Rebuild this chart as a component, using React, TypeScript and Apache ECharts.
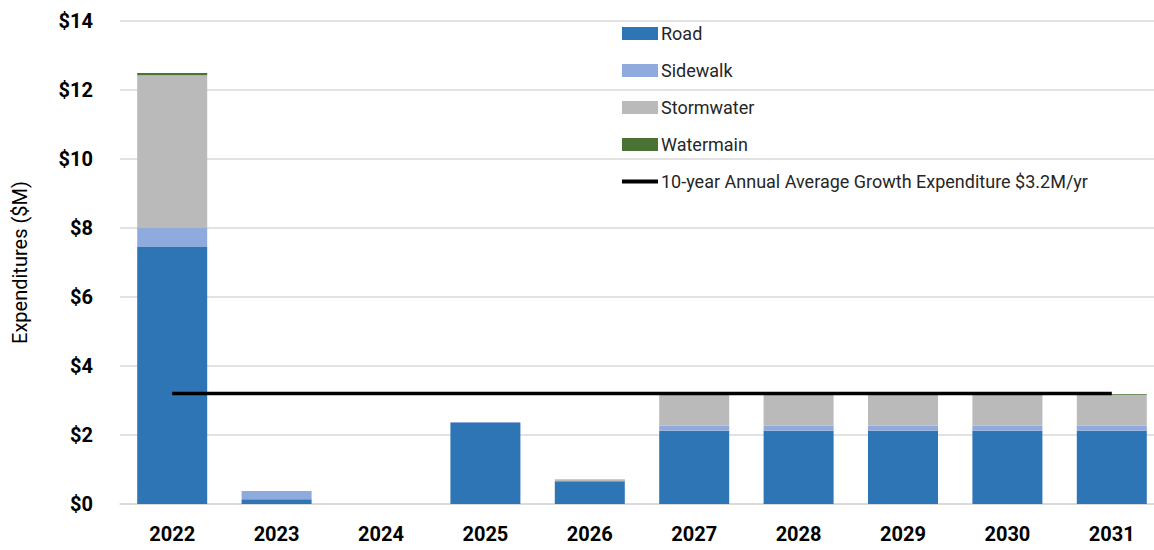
import React, { useEffect, useRef } from "react";
import * as echarts from "echarts";

const years = ["2022", "2023", "2024", "2025", "2026", "2027", "2028", "2029", "2030", "2031"];
const road = [7.45, 0.14, 0, 2.35, 0.66, 2.12, 2.12, 2.12, 2.12, 2.12];
const sidewalk = [0.55, 0.24, 0, 0.03, 0.01, 0.15, 0.15, 0.15, 0.15, 0.15];
const stormwater = [4.43, 0, 0, 0, 0.05, 0.9, 0.9, 0.9, 0.9, 0.9];
const watermain = [0.06, 0, 0, 0, 0, 0.02, 0.02, 0.02, 0.02, 0.02];
const averageGrowth = [3.2, 3.2, 3.2, 3.2, 3.2, 3.2, 3.2, 3.2, 3.2, 3.2];
const lineName = "10-year Annual Average Growth Expenditure $3.2M/yr";

const FONT = "Roboto, 'Liberation Sans Narrow', sans-serif";

export default function App() {
  const ref = useRef<HTMLDivElement>(null);
  useEffect(() => {
    const chart = echarts.init(ref.current!, undefined, { renderer: "svg" });
    const bar = (name: string, data: number[], color: string) => ({
      name,
      type: "bar",
      stack: "total",
      data,
      barWidth: 70,
      itemStyle: { color },
    });
    chart.setOption({
      animation: false,
      textStyle: { fontFamily: FONT },
      grid: { left: 120, right: 0, top: 21, bottom: 46 },
      legend: {
        orient: "vertical",
        left: 622,
        top: 23,
        padding: 0,
        itemWidth: 36,
        itemHeight: 13,
        itemGap: 16,
        textStyle: { fontFamily: FONT, fontSize: 18, color: "#262626", padding: [0, 0, 0, -2], lineHeight: 21 },
        data: [
          { name: "Road", icon: "rect" },
          { name: "Sidewalk", icon: "rect" },
          { name: "Stormwater", icon: "rect" },
          { name: "Watermain", icon: "rect" },
          { name: lineName, icon: "path://M0,0H36V4H0Z" },
        ],
      },
      xAxis: {
        type: "category",
        data: years,
        axisLine: { lineStyle: { color: "#d9d9d9", width: 1.5 } },
        axisTick: { show: false },
        axisLabel: { fontFamily: FONT, fontSize: 20, fontWeight: "bold", color: "#000", margin: 20 },
      },
      yAxis: {
        type: "value",
        min: 0,
        max: 14,
        interval: 2,
        name: "Expenditures ($M)",
        nameLocation: "middle",
        nameGap: 90,
        nameRotate: 90,
        nameTextStyle: { fontFamily: FONT, fontSize: 20, color: "#000" },
        splitLine: { lineStyle: { color: "#d9d9d9", width: 1.5 } },
        axisLabel: {
          fontFamily: FONT,
          fontSize: 20,
          fontWeight: "bold",
          color: "#000",
          margin: 27,
          formatter: (v: number) => "$" + v,
        },
      },
      series: [
        bar("Road", road, "#2E75B6"),
        bar("Sidewalk", sidewalk, "#8FAADC"),
        bar("Stormwater", stormwater, "#BABABA"),
        bar("Watermain", watermain, "#4A7232"),
        {
          name: lineName,
          type: "line",
          data: averageGrowth,
          symbol: "none",
          lineStyle: { color: "#000", width: 3.5 },
          itemStyle: { color: "#000" },
          z: 5,
        },
      ],
    });
    return () => chart.dispose();
  }, []);
  return (
    <div style={{ position: "absolute", left: 0, top: 0, width: 1154, height: 550, overflow: "hidden", background: "#fff" }}>
      <div ref={ref} style={{ position: "absolute", left: 0, top: 0, width: 1164, height: 550 }} />
    </div>
  );
}
